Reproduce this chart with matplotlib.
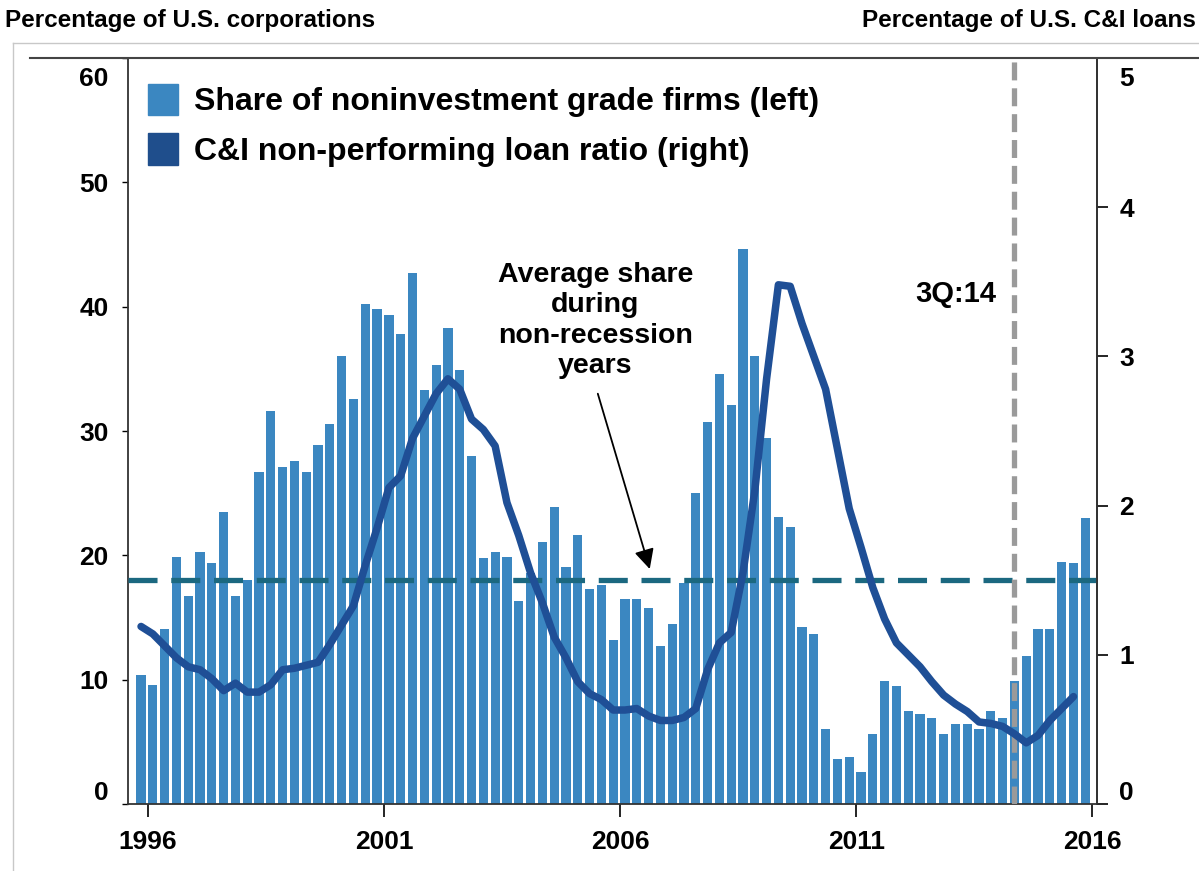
import matplotlib.pyplot as plt
import matplotlib.transforms as mtransforms
from matplotlib.patches import Patch
from matplotlib.lines import Line2D

plt.rcParams['font.family'] = ['Liberation Sans', 'DejaVu Sans']

# quarterly, 1996Q1 .. 2016Q1
share_noninv = [10.4, 9.6, 14.1, 19.9, 16.7, 20.3, 19.4, 23.5, 16.7, 18.0,
                26.7, 31.6, 27.1, 27.6, 26.7, 28.9, 30.6, 36.0, 32.6, 40.2,
                39.8, 39.3, 37.8, 42.7, 33.3, 35.3, 38.3, 34.9, 28.0, 19.8,
                20.3, 19.9, 16.3, 18.6, 21.1, 23.9, 19.1, 21.6, 17.3, 17.6,
                13.2, 16.5, 16.5, 15.8, 12.7, 14.5, 17.8, 25.0, 30.7, 34.6,
                32.1, 44.6, 36.0, 29.4, 23.1, 22.3, 14.2, 13.7, 6.0, 3.6,
                3.8, 2.6, 5.6, 9.9, 9.5, 7.5, 7.2, 6.9, 5.6, 6.4,
                6.4, 6.0, 7.5, 6.9, 9.9, 11.9, 14.1, 14.1, 19.5, 19.4,
                23.0]

# 1996Q1 .. 2015Q4
npl_ratio = [1.19, 1.14, 1.06, 0.98, 0.92, 0.90, 0.84, 0.76, 0.81, 0.75,
             0.75, 0.80, 0.90, 0.91, 0.93, 0.95, 1.07, 1.20, 1.33, 1.60,
             1.85, 2.12, 2.20, 2.45, 2.60, 2.75, 2.85, 2.78, 2.58, 2.51,
             2.40, 2.02, 1.80, 1.55, 1.35, 1.12, 0.98, 0.82, 0.74, 0.70,
             0.63, 0.63, 0.64, 0.59, 0.56, 0.56, 0.58, 0.64, 0.90, 1.08,
             1.15, 1.55, 2.10, 2.85, 3.48, 3.47, 3.22, 3.00, 2.78, 2.38,
             1.98, 1.72, 1.45, 1.24, 1.08, 1.00, 0.92, 0.82, 0.73, 0.67,
             0.62, 0.55, 0.54, 0.52, 0.47, 0.41, 0.46, 0.56, 0.64, 0.72]

avg_share = 18.0
year_labels = ['1996', '2001', '2006', '2011', '2016']
marker_q = 74  # 3Q:14

bar_col = '#3b87c1'
line_col = '#1f4f96'
dash_col = '#1b6880'

fig = plt.figure(figsize=(11.99, 8.71), dpi=100)
ax = fig.add_axes([0.1068, 0.0769, 0.8082, 0.8565])

xb = list(range(len(share_noninv)))
ax.bar(xb, share_noninv, width=0.78, color=bar_col, zorder=2)
ax.axhline(avg_share, color=dash_col, lw=3.8, dashes=(5.5, 2.6), zorder=3)
ax.axvline(marker_q, color='#9a9a9a', lw=3.8, dashes=(3.4, 1.5), zorder=4)

ax.set_xlim(-1.1, 81.0)
ax.set_ylim(0, 60)
ax.set_yticks(range(0, 61, 10))
ax.set_xticks([20 * k + 0.6 for k in range(5)])
ax.set_xticklabels(year_labels)
ax.tick_params(axis='x', direction='out', length=9, width=1.2, pad=10,
               labelsize=19)
ax.tick_params(axis='y', direction='out', length=4, width=1, pad=10,
               labelsize=19)
for lab in ax.get_xticklabels() + ax.get_yticklabels():
    lab.set_fontweight('bold')
for s in ['left', 'bottom', 'right']:
    ax.spines[s].set_color('#333333')
    ax.spines[s].set_linewidth(1.3)
ax.spines['top'].set_visible(False)

ax2 = ax.twinx()
ax2.plot(range(len(npl_ratio)), npl_ratio, color=line_col, lw=5.4,
         solid_capstyle='round', solid_joinstyle='round', zorder=5)
ax2.set_ylim(0, 5)
ax2.set_yticks(range(0, 6))
ax2.tick_params(axis='y', direction='out', length=8, width=1.2, pad=8,
                labelsize=19)
for lab in ax2.get_yticklabels():
    lab.set_fontweight('bold')
for s in ['left', 'bottom', 'top']:
    ax2.spines[s].set_visible(False)
ax2.spines['right'].set_color('#333333')
ax2.spines['right'].set_linewidth(1.3)

# end labels sit inside the plot height
for a in (ax, ax2):
    labs = a.get_yticklabels()
    labs[0].set_transform(labs[0].get_transform() +
                          mtransforms.ScaledTranslation(0, 0.14, fig.dpi_scale_trans))
    labs[-1].set_transform(labs[-1].get_transform() +
                           mtransforms.ScaledTranslation(0, -0.18, fig.dpi_scale_trans))

ax.text(38.5, 38.9, 'Average share\nduring\nnon-recession\nyears',
        ha='center', va='center', fontsize=20.5, fontweight='bold',
        linespacing=1.22, zorder=6)
ax.annotate('', xy=(43.1, 18.9), xytext=(38.7, 33.0),
            arrowprops=dict(arrowstyle='-|>', color='black', lw=1.3,
                            mutation_scale=30, shrinkA=0, shrinkB=0),
            zorder=6)
ax.text(69.0, 41.0, '3Q:14', ha='center', va='center', fontsize=21,
        fontweight='bold')

handles = [Patch(color=bar_col), Patch(color='#1f4e8c')]
leg = ax.legend(handles, ['Share of noninvestment grade firms (left)',
                          'C&I non-performing loan ratio (right)'],
                loc='upper left', bbox_to_anchor=(-0.009, 1.004), frameon=False,
                prop={'size': 23, 'weight': 'bold'}, handlelength=0.95,
                handleheight=1.15, handletextpad=0.5, labelspacing=0.5,
                borderaxespad=0.5)

# header
hdr = ['Liberation Sans Narrow', 'Liberation Sans', 'DejaVu Sans']
fig.text(0.004, 0.977, 'Percentage of U.S. corporations', ha='left',
         va='center', fontsize=17.5, fontweight='bold', family=hdr)
fig.text(0.997, 0.977, 'Percentage of U.S. C&I loans', ha='right',
         va='center', fontsize=17.5, fontweight='bold', family=hdr)
fig.add_artist(Line2D([0.011, 1.0], [0.951, 0.951], color='#c8c8c8', lw=1))
fig.add_artist(Line2D([0.011, 0.011], [0.951, 0.0], color='#c8c8c8', lw=1))
fig.add_artist(Line2D([0.025, 1.0], [0.9334, 0.9334], color='#444444', lw=1.5))

fig.savefig('out.png', dpi=100)
